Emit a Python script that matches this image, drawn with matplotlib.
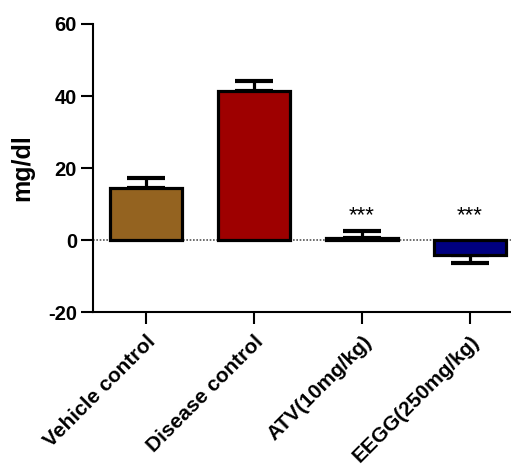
import matplotlib
matplotlib.use("Agg")
import matplotlib.pyplot as plt
import numpy as np

plt.rcParams['font.family'] = ['Liberation Sans', 'DejaVu Sans']
plt.rcParams['axes.unicode_minus'] = False

categories = ["Vehicle control", "Disease control", "ATV(10mg/kg)", "EEGG(250mg/kg)"]
means = [14.4, 41.5, 0.5, -4.3]
errors = [2.8, 2.8, 1.9, 2.0]
colors = ["#946320", "#9e0000", "#3a7d3a", "#000080"]
significance = ["", "", "***", "***"]
ylim = (-20, 60)
yticks = [-20, 0, 20, 40, 60]

fig = plt.figure(figsize=(5.11, 4.66), dpi=100)
ax = fig.add_axes([93/511, 1-312/466, 1-93/511, (312-24)/466])

x = np.arange(len(categories))
ax.bar(x, means, width=0.67, color=colors, edgecolor="black", linewidth=2.3, zorder=3)
for xi, m, e in zip(x, means, errors):
    lo, hi = (0, e) if m >= 0 else (e, 0)
    ax.errorbar(xi, m, yerr=[[lo], [hi]], fmt="none", ecolor="black",
                elinewidth=2.3, capsize=13.5, capthick=3.0, zorder=2)
for xi, s in zip(x, significance):
    if s:
        ax.text(xi, 6.7, s, ha="center", va="center", fontsize=16)

ax.axhline(0, color="#555555", linestyle=(0, (1, 1)), linewidth=1.2, zorder=1)

ax.set_xlim(-0.49, 3.38)
ax.set_ylim(*ylim)
ax.set_yticks(yticks)
ax.set_xticks(x)
ax.set_xticklabels(categories, rotation=45, ha="right", rotation_mode="anchor",
                   fontsize=15, fontweight="bold")
for lbl in ax.get_yticklabels():
    lbl.set_fontweight("bold")
    lbl.set_fontsize(14.5)
ax.tick_params(axis="both", length=8.5, width=1.5, color="black")
ax.tick_params(axis="x", pad=6)
ax.tick_params(axis="y", pad=3)
ax.spines["top"].set_visible(False)
ax.spines["right"].set_visible(False)
ax.spines["left"].set_linewidth(1.5)
ax.spines["bottom"].set_linewidth(1.5)
ax.set_ylabel("mg/dl", fontsize=18, fontweight="bold", labelpad=10)

fig.savefig("out.png", dpi=100)
